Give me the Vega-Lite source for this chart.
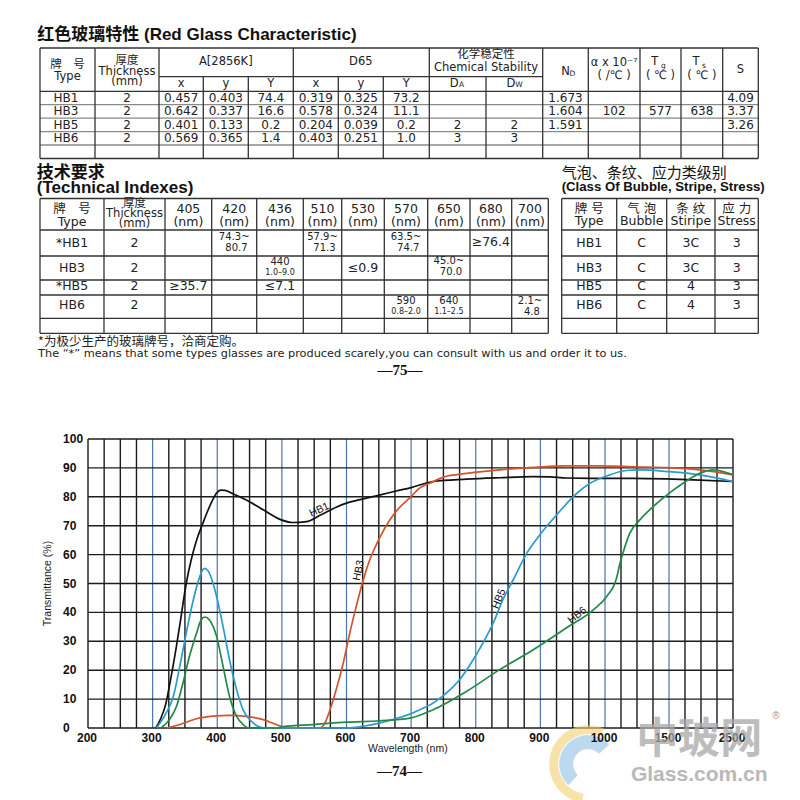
{
  "$schema": "https://vega.github.io/schema/vega-lite/v6.json",
  "width": 800,
  "height": 800,
  "autosize": "none",
  "padding": 0,
  "background": "white",
  "config": {"view": {"stroke": null}},
  "datasets": {
    "t1h": [
      {"r": 0, "c0": 0, "c1": 15}, {"r": 1, "c0": 2, "c1": 10}, {"r": 2, "c0": 0, "c1": 15},
      {"r": 3, "c0": 0, "c1": 15}, {"r": 4, "c0": 0, "c1": 15}, {"r": 5, "c0": 0, "c1": 15},
      {"r": 6, "c0": 0, "c1": 15}, {"r": 7, "c0": 0, "c1": 15}
    ],
    "t1v": [
      {"c": 0, "r0": 0, "r1": 7}, {"c": 1, "r0": 0, "r1": 7}, {"c": 2, "r0": 0, "r1": 7},
      {"c": 3, "r0": 1, "r1": 7}, {"c": 4, "r0": 1, "r1": 7}, {"c": 5, "r0": 0, "r1": 7},
      {"c": 6, "r0": 1, "r1": 7}, {"c": 7, "r0": 1, "r1": 7}, {"c": 8, "r0": 0, "r1": 7},
      {"c": 9, "r0": 1, "r1": 7}, {"c": 10, "r0": 0, "r1": 7}, {"c": 11, "r0": 0, "r1": 7},
      {"c": 12, "r0": 0, "r1": 7}, {"c": 13, "r0": 0, "r1": 7}, {"c": 14, "r0": 0, "r1": 7},
      {"c": 15, "r0": 0, "r1": 7}
    ],
    "t1head": [
      {"c": 0.5, "r": 0.59, "s": "牌　号"}, {"c": 0.5, "r": 1.04, "s": "Type"},
      {"c": 1.5, "r": 0.44, "s": "厚度"}, {"c": 1.5, "r": 0.82, "s": "Thickness"}, {"c": 1.5, "r": 1.34, "s": "(mm)"},
      {"c": 3.5, "r": 0.5, "s": "A[2856K]"}, {"c": 6.5, "r": 0.5, "s": "D65"},
      {"c": 9, "r": 0.24, "s": "化学稳定性"}, {"c": 9, "r": 0.71, "s": "Chemical Stability"},
      {"c": 2.5, "r": 1.47, "s": "x"}, {"c": 3.5, "r": 1.47, "s": "y"}, {"c": 4.5, "r": 1.47, "s": "Y"},
      {"c": 5.5, "r": 1.47, "s": "x"}, {"c": 6.5, "r": 1.47, "s": "y"}, {"c": 7.5, "r": 1.47, "s": "Y"},
      {"c": 8.44, "r": 1.47, "s": "D"}, {"c": 9.44, "r": 1.47, "s": "D"},
      {"c": 10.5, "r": 0.82, "s": "N"},
      {"c": 11.5, "r": 0.52, "s": "α x 10⁻⁷"}, {"c": 11.5, "r": 0.98, "s": "( /℃ )"},
      {"c": 12.36, "r": 0.5, "s": "T"}, {"c": 12.5, "r": 0.98, "s": "( ℃ )"},
      {"c": 13.36, "r": 0.5, "s": "T"}, {"c": 13.5, "r": 0.98, "s": "( ℃ )"},
      {"c": 14.5, "r": 0.77, "s": "S"}
    ],
    "t1sub": [
      {"c": 8.57, "r": 1.6, "s": "A"}, {"c": 9.58, "r": 1.6, "s": "W"}, {"c": 10.65, "r": 0.92, "s": "D"},
      {"c": 12.57, "r": 0.64, "s": "g"}, {"c": 13.55, "r": 0.62, "s": "s"}
    ],
    "t1cell": [
      {"c": 0.47, "r": 2.5, "s": "HB1"}, {"c": 1.5, "r": 2.5, "s": "2"}, {"c": 2.5, "r": 2.5, "s": "0.457"},
      {"c": 3.5, "r": 2.5, "s": "0.403"}, {"c": 4.5, "r": 2.5, "s": "74.4"}, {"c": 5.5, "r": 2.5, "s": "0.319"},
      {"c": 6.5, "r": 2.5, "s": "0.325"}, {"c": 7.5, "r": 2.5, "s": "73.2"}, {"c": 10.5, "r": 2.5, "s": "1.673"},
      {"c": 14.5, "r": 2.5, "s": "4.09"},
      {"c": 0.47, "r": 3.5, "s": "HB3"}, {"c": 1.5, "r": 3.5, "s": "2"}, {"c": 2.5, "r": 3.5, "s": "0.642"},
      {"c": 3.5, "r": 3.5, "s": "0.337"}, {"c": 4.5, "r": 3.5, "s": "16.6"}, {"c": 5.5, "r": 3.5, "s": "0.578"},
      {"c": 6.5, "r": 3.5, "s": "0.324"}, {"c": 7.5, "r": 3.5, "s": "11.1"}, {"c": 10.5, "r": 3.5, "s": "1.604"},
      {"c": 11.5, "r": 3.5, "s": "102"}, {"c": 12.5, "r": 3.5, "s": "577"}, {"c": 13.5, "r": 3.5, "s": "638"},
      {"c": 14.5, "r": 3.5, "s": "3.37"},
      {"c": 0.47, "r": 4.5, "s": "HB5"}, {"c": 1.5, "r": 4.5, "s": "2"}, {"c": 2.5, "r": 4.5, "s": "0.401"},
      {"c": 3.5, "r": 4.5, "s": "0.133"}, {"c": 4.5, "r": 4.5, "s": "0.2"}, {"c": 5.5, "r": 4.5, "s": "0.204"},
      {"c": 6.5, "r": 4.5, "s": "0.039"}, {"c": 7.5, "r": 4.5, "s": "0.2"}, {"c": 8.5, "r": 4.5, "s": "2"},
      {"c": 9.5, "r": 4.5, "s": "2"}, {"c": 10.5, "r": 4.5, "s": "1.591"}, {"c": 14.5, "r": 4.5, "s": "3.26"},
      {"c": 0.47, "r": 5.5, "s": "HB6"}, {"c": 1.5, "r": 5.5, "s": "2"}, {"c": 2.5, "r": 5.5, "s": "0.569"},
      {"c": 3.5, "r": 5.5, "s": "0.365"}, {"c": 4.5, "r": 5.5, "s": "1.4"}, {"c": 5.5, "r": 5.5, "s": "0.403"},
      {"c": 6.5, "r": 5.5, "s": "0.251"}, {"c": 7.5, "r": 5.5, "s": "1.0"}, {"c": 8.5, "r": 5.5, "s": "3"},
      {"c": 9.5, "r": 5.5, "s": "3"}
    ],
    "t1title": [{"c": -0.05, "r": -0.45, "s": "红色玻璃特性 (Red Glass Characteristic)"}],
    "t2h": [
      {"r": 0, "c0": 0, "c1": 11}, {"r": 1, "c0": 0, "c1": 11}, {"r": 2, "c0": 0, "c1": 11}, {"r": 3, "c0": 0, "c1": 11},
      {"r": 4, "c0": 0, "c1": 11}, {"r": 5, "c0": 0, "c1": 11}, {"r": 6, "c0": 0, "c1": 11},
      {"r": 0, "c0": 12, "c1": 16}, {"r": 1, "c0": 12, "c1": 16}, {"r": 2, "c0": 12, "c1": 16}, {"r": 3, "c0": 12, "c1": 16},
      {"r": 4, "c0": 12, "c1": 16}, {"r": 5, "c0": 12, "c1": 16}, {"r": 6, "c0": 12, "c1": 16}
    ],
    "t2v": [
      {"c": 0, "r0": 0, "r1": 6}, {"c": 1, "r0": 0, "r1": 6}, {"c": 2, "r0": 0, "r1": 6}, {"c": 3, "r0": 0, "r1": 6},
      {"c": 4, "r0": 0, "r1": 6}, {"c": 5, "r0": 0, "r1": 6}, {"c": 6, "r0": 0, "r1": 6}, {"c": 7, "r0": 0, "r1": 6},
      {"c": 8, "r0": 0, "r1": 6}, {"c": 9, "r0": 0, "r1": 6}, {"c": 10, "r0": 0, "r1": 6}, {"c": 11, "r0": 0, "r1": 6},
      {"c": 12, "r0": 0, "r1": 6}, {"c": 13, "r0": 0, "r1": 6}, {"c": 14, "r0": 0, "r1": 6}, {"c": 15, "r0": 0, "r1": 6},
      {"c": 16, "r0": 0, "r1": 6}
    ],
    "t2head": [
      {"c": 0.5, "r": 0.33, "s": "牌　号"}, {"c": 0.5, "r": 0.74, "s": "Type"},
      {"c": 2.5, "r": 0.33, "s": "405"}, {"c": 2.5, "r": 0.74, "s": "(nm)"},
      {"c": 3.5, "r": 0.33, "s": "420"}, {"c": 3.5, "r": 0.74, "s": "(nm)"},
      {"c": 4.5, "r": 0.33, "s": "436"}, {"c": 4.5, "r": 0.74, "s": "(nm)"},
      {"c": 5.5, "r": 0.33, "s": "510"}, {"c": 5.5, "r": 0.74, "s": "(nm)"},
      {"c": 6.5, "r": 0.33, "s": "530"}, {"c": 6.5, "r": 0.74, "s": "(nm)"},
      {"c": 7.5, "r": 0.33, "s": "570"}, {"c": 7.5, "r": 0.74, "s": "(nm)"},
      {"c": 8.5, "r": 0.33, "s": "650"}, {"c": 8.5, "r": 0.74, "s": "(nm)"},
      {"c": 9.5, "r": 0.33, "s": "680"}, {"c": 9.5, "r": 0.74, "s": "(nm)"},
      {"c": 10.5, "r": 0.33, "s": "700"}, {"c": 10.5, "r": 0.74, "s": "(nm)"},
      {"c": 12.5, "r": 0.33, "s": "牌 号"}, {"c": 12.5, "r": 0.71, "s": "Type"},
      {"c": 13.5, "r": 0.33, "s": "气 泡"}, {"c": 13.5, "r": 0.71, "s": "Bubble"},
      {"c": 14.5, "r": 0.33, "s": "条 纹"}, {"c": 14.5, "r": 0.71, "s": "Stiripe"},
      {"c": 15.5, "r": 0.33, "s": "应 力"}, {"c": 15.5, "r": 0.71, "s": "Stress"}
    ],
    "t2thick": [
      {"c": 1.5, "r": 0.18, "s": "厚度"}, {"c": 1.5, "r": 0.5, "s": "Thickness"}, {"c": 1.5, "r": 0.82, "s": "(mm)"}
    ],
    "t2cell": [
      {"c": 0.5, "r": 1.5, "s": "*HB1"}, {"c": 1.5, "r": 1.5, "s": "2"}, {"c": 9.5, "r": 1.47, "s": "≥76.4"},
      {"c": 0.5, "r": 2.5, "s": "HB3"}, {"c": 1.5, "r": 2.5, "s": "2"}, {"c": 6.5, "r": 2.5, "s": "≤0.9"},
      {"c": 0.5, "r": 3.4, "s": "*HB5"}, {"c": 1.5, "r": 3.4, "s": "2"}, {"c": 2.5, "r": 3.4, "s": "≥35.7"},
      {"c": 4.5, "r": 3.4, "s": "≤7.1"},
      {"c": 0.5, "r": 4.45, "s": "HB6"}, {"c": 1.5, "r": 4.45, "s": "2"},
      {"c": 12.5, "r": 1.5, "s": "HB1"}, {"c": 13.5, "r": 1.5, "s": "C"}, {"c": 14.5, "r": 1.5, "s": "3C"}, {"c": 15.5, "r": 1.5, "s": "3"},
      {"c": 12.5, "r": 2.5, "s": "HB3"}, {"c": 13.5, "r": 2.5, "s": "C"}, {"c": 14.5, "r": 2.5, "s": "3C"}, {"c": 15.5, "r": 2.5, "s": "3"},
      {"c": 12.5, "r": 3.4, "s": "HB5"}, {"c": 13.5, "r": 3.4, "s": "C"}, {"c": 14.5, "r": 3.4, "s": "4"}, {"c": 15.5, "r": 3.4, "s": "3"},
      {"c": 12.5, "r": 4.45, "s": "HB6"}, {"c": 13.5, "r": 4.45, "s": "C"}, {"c": 14.5, "r": 4.45, "s": "4"}, {"c": 15.5, "r": 4.45, "s": "3"}
    ],
    "t2range": [
      {"c": 3.5, "r": 1.28, "s": "74.3~"}, {"c": 3.55, "r": 1.68, "s": "80.7"},
      {"c": 5.5, "r": 1.28, "s": "57.9~"}, {"c": 5.55, "r": 1.68, "s": "71.3"},
      {"c": 7.5, "r": 1.28, "s": "63.5~"}, {"c": 7.55, "r": 1.68, "s": "74.7"},
      {"c": 4.5, "r": 2.24, "s": "440"},
      {"c": 8.5, "r": 2.22, "s": "45.0~"}, {"c": 8.55, "r": 2.68, "s": "70.0"},
      {"c": 7.5, "r": 4.27, "s": "590"}, {"c": 8.5, "r": 4.27, "s": "640"},
      {"c": 10.5, "r": 4.27, "s": "2.1~"}, {"c": 10.55, "r": 4.74, "s": "4.8"}
    ],
    "t2small": [
      {"c": 4.5, "r": 2.72, "s": "1.0–9.0"}, {"c": 7.5, "r": 4.74, "s": "0.8–2.0"}, {"c": 8.5, "r": 4.74, "s": "1.1–2.5"}
    ],
    "t2titleb": [
      {"c": -0.05, "r": -0.8, "s": "技术要求"}, {"c": -0.05, "r": -0.33, "s": "(Technical Indexes)"}
    ],
    "t2titlecn": [{"c": 12, "r": -0.8, "s": "气泡、条纹、应力类级别"}],
    "t2titlenarrow": [{"c": 12, "r": -0.37, "s": "(Class Of Bubble, Stripe, Stress)"}],
    "t2notecn": [{"c": -0.03, "r": 6.6, "s": "*为极少生产的玻璃牌号，洽商定购。"}],
    "t2note": [{"c": -0.03, "r": 7.4, "s": "The   “*”  means that some types glasses are produced scarely,you can consult with us and order it to us."}],
    "t2page": [{"c": 7.36, "r": 8.45, "s": "—75—"}],
    "vgrid": [
      {"w": 200}, {"w": 225}, {"w": 250}, {"w": 275}, {"w": 300}, {"w": 325}, {"w": 350}, {"w": 375},
      {"w": 400}, {"w": 425}, {"w": 450}, {"w": 475}, {"w": 500}, {"w": 525}, {"w": 550}, {"w": 575},
      {"w": 600}, {"w": 625}, {"w": 650}, {"w": 675}, {"w": 700}, {"w": 725}, {"w": 750}, {"w": 775},
      {"w": 800}, {"w": 825}, {"w": 850}, {"w": 875}, {"w": 900}, {"w": 925}, {"w": 950}, {"w": 975},
      {"w": 1000}, {"w": 1125}, {"w": 1250}, {"w": 1375}, {"w": 1500}, {"w": 1750}, {"w": 2000}, {"w": 2250}, {"w": 2500}
    ],
    "hgrid": [
      {"v": 0}, {"v": 10}, {"v": 20}, {"v": 30}, {"v": 40}, {"v": 50}, {"v": 60}, {"v": 70}, {"v": 80}, {"v": 90}, {"v": 100}
    ],
    "xticks": [
      {"w": 200}, {"w": 300}, {"w": 400}, {"w": 500}, {"w": 600}, {"w": 700}, {"w": 800}, {"w": 900},
      {"w": 1000}, {"w": 1500}, {"w": 2500}
    ],
    "yticks": [
      {"v": 0}, {"v": 10}, {"v": 20}, {"v": 30}, {"v": 40}, {"v": 50}, {"v": 60}, {"v": 70}, {"v": 80}, {"v": 90}, {"v": 100}
    ],
    "xtitle": [{"w": 695, "v": -7.2, "s": "Wavelength (nm)"}],
    "ytitle": [{"w": 138, "v": 50, "s": "Transmittance (%)"}],
    "curves": [
      {"g": "HB1", "w": 305, "v": 0}, {"g": "HB1", "w": 312, "v": 3}, {"g": "HB1", "w": 320, "v": 8},
      {"g": "HB1", "w": 328, "v": 17}, {"g": "HB1", "w": 337, "v": 28.5}, {"g": "HB1", "w": 345, "v": 40},
      {"g": "HB1", "w": 352, "v": 50}, {"g": "HB1", "w": 360, "v": 58.5}, {"g": "HB1", "w": 368, "v": 65},
      {"g": "HB1", "w": 378, "v": 71}, {"g": "HB1", "w": 385, "v": 75}, {"g": "HB1", "w": 392, "v": 78.5},
      {"g": "HB1", "w": 399, "v": 81.3}, {"g": "HB1", "w": 405, "v": 82.3}, {"g": "HB1", "w": 412, "v": 82.2},
      {"g": "HB1", "w": 425, "v": 81}, {"g": "HB1", "w": 445, "v": 78.9}, {"g": "HB1", "w": 471, "v": 75.5},
      {"g": "HB1", "w": 497, "v": 72.2}, {"g": "HB1", "w": 517, "v": 71.1}, {"g": "HB1", "w": 538, "v": 71.4},
      {"g": "HB1", "w": 559, "v": 73.6}, {"g": "HB1", "w": 584, "v": 76.4}, {"g": "HB1", "w": 600, "v": 77.8},
      {"g": "HB1", "w": 626, "v": 79.3}, {"g": "HB1", "w": 651, "v": 80.6}, {"g": "HB1", "w": 677, "v": 82},
      {"g": "HB1", "w": 700, "v": 83.2}, {"g": "HB1", "w": 734, "v": 85.3}, {"g": "HB1", "w": 786, "v": 86.1},
      {"g": "HB1", "w": 837, "v": 86.6}, {"g": "HB1", "w": 889, "v": 87}, {"g": "HB1", "w": 915, "v": 86.9},
      {"g": "HB1", "w": 940, "v": 86.5}, {"g": "HB1", "w": 992, "v": 86.4}, {"g": "HB1", "w": 1220, "v": 86.4},
      {"g": "HB1", "w": 1479, "v": 86.2}, {"g": "HB1", "w": 1979, "v": 85.8}, {"g": "HB1", "w": 2500, "v": 85.3},
      {"g": "HB3", "w": 322, "v": 0}, {"g": "HB3", "w": 342, "v": 1.2}, {"g": "HB3", "w": 368, "v": 3.2},
      {"g": "HB3", "w": 393, "v": 4.1}, {"g": "HB3", "w": 419, "v": 4.4}, {"g": "HB3", "w": 445, "v": 4},
      {"g": "HB3", "w": 471, "v": 2.9}, {"g": "HB3", "w": 491, "v": 1.2}, {"g": "HB3", "w": 507, "v": 0.1},
      {"g": "HB3", "w": 520, "v": 0}, {"g": "HB3", "w": 558, "v": 0}, {"g": "HB3", "w": 566, "v": 1.5},
      {"g": "HB3", "w": 574, "v": 6}, {"g": "HB3", "w": 584, "v": 13.2}, {"g": "HB3", "w": 595, "v": 22.5},
      {"g": "HB3", "w": 605, "v": 32.8}, {"g": "HB3", "w": 615, "v": 42}, {"g": "HB3", "w": 626, "v": 51.3},
      {"g": "HB3", "w": 636, "v": 58.2}, {"g": "HB3", "w": 651, "v": 65.7}, {"g": "HB3", "w": 667, "v": 72},
      {"g": "HB3", "w": 682, "v": 76.3}, {"g": "HB3", "w": 698, "v": 79.6}, {"g": "HB3", "w": 713, "v": 83},
      {"g": "HB3", "w": 729, "v": 84.7}, {"g": "HB3", "w": 750, "v": 86.8}, {"g": "HB3", "w": 786, "v": 88.1},
      {"g": "HB3", "w": 837, "v": 89.3}, {"g": "HB3", "w": 889, "v": 90.2}, {"g": "HB3", "w": 940, "v": 90.7},
      {"g": "HB3", "w": 992, "v": 90.7}, {"g": "HB3", "w": 1220, "v": 90.4}, {"g": "HB3", "w": 1500, "v": 90.1},
      {"g": "HB3", "w": 1979, "v": 89.3}, {"g": "HB3", "w": 2500, "v": 87.6},
      {"g": "HB5", "w": 306, "v": 0}, {"g": "HB5", "w": 321, "v": 5.2}, {"g": "HB5", "w": 332, "v": 10.9},
      {"g": "HB5", "w": 342, "v": 21.3}, {"g": "HB5", "w": 352, "v": 32.8}, {"g": "HB5", "w": 363, "v": 44.4},
      {"g": "HB5", "w": 373, "v": 52.4}, {"g": "HB5", "w": 380, "v": 55.2}, {"g": "HB5", "w": 386, "v": 54.3},
      {"g": "HB5", "w": 399, "v": 45.5}, {"g": "HB5", "w": 409, "v": 35.1}, {"g": "HB5", "w": 419, "v": 23.6},
      {"g": "HB5", "w": 430, "v": 13.2}, {"g": "HB5", "w": 440, "v": 6.3}, {"g": "HB5", "w": 453, "v": 2.3},
      {"g": "HB5", "w": 466, "v": 0.3}, {"g": "HB5", "w": 476, "v": 0}, {"g": "HB5", "w": 600, "v": 0},
      {"g": "HB5", "w": 626, "v": 0.6}, {"g": "HB5", "w": 651, "v": 1.7}, {"g": "HB5", "w": 677, "v": 3.3},
      {"g": "HB5", "w": 698, "v": 4.8}, {"g": "HB5", "w": 708, "v": 5.8}, {"g": "HB5", "w": 734, "v": 8.6},
      {"g": "HB5", "w": 760, "v": 13.2}, {"g": "HB5", "w": 775, "v": 16.7}, {"g": "HB5", "w": 796, "v": 23.6},
      {"g": "HB5", "w": 811, "v": 29.4}, {"g": "HB5", "w": 827, "v": 36.3}, {"g": "HB5", "w": 842, "v": 44.4},
      {"g": "HB5", "w": 858, "v": 51.3}, {"g": "HB5", "w": 879, "v": 60.5}, {"g": "HB5", "w": 899, "v": 66.8},
      {"g": "HB5", "w": 925, "v": 73.7}, {"g": "HB5", "w": 951, "v": 80.1}, {"g": "HB5", "w": 977, "v": 84.7},
      {"g": "HB5", "w": 1013, "v": 87.2}, {"g": "HB5", "w": 1168, "v": 89.1}, {"g": "HB5", "w": 1272, "v": 89.3},
      {"g": "HB5", "w": 1500, "v": 88.7}, {"g": "HB5", "w": 1979, "v": 87.6}, {"g": "HB5", "w": 2500, "v": 85.3},
      {"g": "HB6", "w": 313, "v": 0}, {"g": "HB6", "w": 326, "v": 2.9}, {"g": "HB6", "w": 337, "v": 7.5},
      {"g": "HB6", "w": 347, "v": 15.6}, {"g": "HB6", "w": 357, "v": 24.8}, {"g": "HB6", "w": 368, "v": 32.8},
      {"g": "HB6", "w": 375, "v": 37.4}, {"g": "HB6", "w": 381, "v": 38.4}, {"g": "HB6", "w": 388, "v": 37.4},
      {"g": "HB6", "w": 399, "v": 31.7}, {"g": "HB6", "w": 409, "v": 21.3}, {"g": "HB6", "w": 419, "v": 10.9},
      {"g": "HB6", "w": 430, "v": 4}, {"g": "HB6", "w": 440, "v": 1.2}, {"g": "HB6", "w": 450, "v": 0},
      {"g": "HB6", "w": 495, "v": 0}, {"g": "HB6", "w": 502, "v": 0.5}, {"g": "HB6", "w": 548, "v": 1.2},
      {"g": "HB6", "w": 600, "v": 2}, {"g": "HB6", "w": 651, "v": 2.5}, {"g": "HB6", "w": 698, "v": 3.4},
      {"g": "HB6", "w": 734, "v": 6.3}, {"g": "HB6", "w": 786, "v": 12.7}, {"g": "HB6", "w": 837, "v": 20.2},
      {"g": "HB6", "w": 889, "v": 27.1}, {"g": "HB6", "w": 940, "v": 34.6}, {"g": "HB6", "w": 982, "v": 40.9},
      {"g": "HB6", "w": 1013, "v": 45.5}, {"g": "HB6", "w": 1091, "v": 52}, {"g": "HB6", "w": 1117, "v": 57},
      {"g": "HB6", "w": 1142, "v": 60.8}, {"g": "HB6", "w": 1194, "v": 67.4}, {"g": "HB6", "w": 1272, "v": 72},
      {"g": "HB6", "w": 1376, "v": 76.6}, {"g": "HB6", "w": 1500, "v": 81.2}, {"g": "HB6", "w": 1719, "v": 84.7},
      {"g": "HB6", "w": 1979, "v": 88.1}, {"g": "HB6", "w": 2188, "v": 89.3}, {"g": "HB6", "w": 2344, "v": 88.7},
      {"g": "HB6", "w": 2500, "v": 87.6}
    ],
    "clabels": [
      {"g": "HB1", "w": 558, "v": 75.5}, {"g": "HB3", "w": 619, "v": 54.5},
      {"g": "HB5", "w": 836, "v": 44.7}, {"g": "HB6", "w": 957, "v": 39}
    ],
    "pg74": [{"w": 682, "v": -14.8, "s": "—74—"}],
    "logo": [{"w": 974, "v": -12.5}],
    "wm1": [{"w": 1972, "v": -4.2, "s": "中玻网"}],
    "wm2": [{"w": 1972, "v": -16.2, "s": "Glass.com.cn"}],
    "wm3": [{"w": 3172, "v": 4.2, "s": "®"}]
  },
  "resolve": {"scale": {"x": "independent", "y": "independent"}},
  "layer": [
    {
      "layer": [
        {
          "data": {"name": "t1h"},
          "mark": {"type": "rule", "strokeWidth": 1.3},
          "encoding": {
            "x": {"field": "c0", "type": "quantitative", "axis": null, "scale": {"domain": [0,1,2,3,4,5,6,7,8,9,10,11,12,13,14,15], "range": [40,95,159,203.3,248.3,293.3,338.3,383.3,429.3,486,542.7,588.3,640,681,722.7,758.3], "nice": false, "zero": false}},
            "x2": {"field": "c1"},
            "y": {"field": "r", "type": "quantitative", "axis": null, "scale": {"domain": [0,1,2,3,4,5,6,7], "range": [48,76.7,91.3,104.7,118.2,131.7,145,158.5], "nice": false, "zero": false}},
            "color": {"condition": {"test": "datum.r > 2 && datum.r < 7", "value": "#8a8a8a"}, "value": "#333333"}
          }
        },
        {
          "data": {"name": "t1v"},
          "mark": {"type": "rule", "strokeWidth": 1.3, "color": "#333333"},
          "encoding": {
            "x": {"field": "c", "type": "quantitative", "axis": null, "scale": {"domain": [0,1,2,3,4,5,6,7,8,9,10,11,12,13,14,15], "range": [40,95,159,203.3,248.3,293.3,338.3,383.3,429.3,486,542.7,588.3,640,681,722.7,758.3], "nice": false, "zero": false}},
            "y": {"field": "r0", "type": "quantitative", "axis": null, "scale": {"domain": [0,1,2,3,4,5,6,7], "range": [48,76.7,91.3,104.7,118.2,131.7,145,158.5], "nice": false, "zero": false}},
            "y2": {"field": "r1"}
          }
        },
        {
          "data": {"name": "t1head"},
          "mark": {"type": "text", "font": "DejaVu Sans, Noto Sans CJK SC", "fontSize": 11.5, "color": "#222222"},
          "encoding": {
            "x": {"field": "c", "type": "quantitative", "axis": null, "scale": {"domain": [0,1,2,3,4,5,6,7,8,9,10,11,12,13,14,15], "range": [40,95,159,203.3,248.3,293.3,338.3,383.3,429.3,486,542.7,588.3,640,681,722.7,758.3], "nice": false, "zero": false}},
            "y": {"field": "r", "type": "quantitative", "axis": null, "scale": {"domain": [0,1,2,3,4,5,6,7], "range": [48,76.7,91.3,104.7,118.2,131.7,145,158.5], "nice": false, "zero": false}},
            "text": {"field": "s"}
          }
        },
        {
          "data": {"name": "t1sub"},
          "mark": {"type": "text", "font": "DejaVu Sans", "fontSize": 7.5, "color": "#222222"},
          "encoding": {
            "x": {"field": "c", "type": "quantitative", "axis": null, "scale": {"domain": [0,1,2,3,4,5,6,7,8,9,10,11,12,13,14,15], "range": [40,95,159,203.3,248.3,293.3,338.3,383.3,429.3,486,542.7,588.3,640,681,722.7,758.3], "nice": false, "zero": false}},
            "y": {"field": "r", "type": "quantitative", "axis": null, "scale": {"domain": [0,1,2,3,4,5,6,7], "range": [48,76.7,91.3,104.7,118.2,131.7,145,158.5], "nice": false, "zero": false}},
            "text": {"field": "s"}
          }
        },
        {
          "data": {"name": "t1cell"},
          "mark": {"type": "text", "font": "DejaVu Sans", "fontSize": 12, "color": "#222222"},
          "encoding": {
            "x": {"field": "c", "type": "quantitative", "axis": null, "scale": {"domain": [0,1,2,3,4,5,6,7,8,9,10,11,12,13,14,15], "range": [40,95,159,203.3,248.3,293.3,338.3,383.3,429.3,486,542.7,588.3,640,681,722.7,758.3], "nice": false, "zero": false}},
            "y": {"field": "r", "type": "quantitative", "axis": null, "scale": {"domain": [0,1,2,3,4,5,6,7], "range": [48,76.7,91.3,104.7,118.2,131.7,145,158.5], "nice": false, "zero": false}},
            "text": {"field": "s"}
          }
        },
        {
          "data": {"name": "t1title"},
          "mark": {"type": "text", "font": "Liberation Sans, Noto Sans CJK SC", "fontSize": 17, "fontWeight": "bold", "align": "left", "color": "#111111"},
          "encoding": {
            "x": {"field": "c", "type": "quantitative", "axis": null, "scale": {"domain": [0,1,2,3,4,5,6,7,8,9,10,11,12,13,14,15], "range": [40,95,159,203.3,248.3,293.3,338.3,383.3,429.3,486,542.7,588.3,640,681,722.7,758.3], "nice": false, "zero": false}},
            "y": {"field": "r", "type": "quantitative", "axis": null, "scale": {"domain": [0,1,2,3,4,5,6,7], "range": [48,76.7,91.3,104.7,118.2,131.7,145,158.5], "nice": false, "zero": false}},
            "text": {"field": "s"}
          }
        }
      ]
    },
    {
      "layer": [
        {
          "data": {"name": "t2h"},
          "mark": {"type": "rule", "strokeWidth": 1.3, "color": "#333333"},
          "encoding": {
            "x": {"field": "c0", "type": "quantitative", "axis": null, "scale": {"domain": [0,1,2,3,4,5,6,7,8,9,10,11,12,13,14,15,16], "range": [40,104,165,211.7,256.7,303.3,341.7,384.3,427.7,470,511.7,548.3,561.7,616.7,666.7,715,758.3], "nice": false, "zero": false}},
            "x2": {"field": "c1"},
            "y": {"field": "r", "type": "quantitative", "axis": null, "scale": {"domain": [0,1,2,3,4,5,6], "range": [198.5,230,256,280,295,318.3,333.3], "nice": false, "zero": false}}
          }
        },
        {
          "data": {"name": "t2v"},
          "mark": {"type": "rule", "strokeWidth": 1.3, "color": "#333333"},
          "encoding": {
            "x": {"field": "c", "type": "quantitative", "axis": null, "scale": {"domain": [0,1,2,3,4,5,6,7,8,9,10,11,12,13,14,15,16], "range": [40,104,165,211.7,256.7,303.3,341.7,384.3,427.7,470,511.7,548.3,561.7,616.7,666.7,715,758.3], "nice": false, "zero": false}},
            "y": {"field": "r0", "type": "quantitative", "axis": null, "scale": {"domain": [0,1,2,3,4,5,6], "range": [198.5,230,256,280,295,318.3,333.3], "nice": false, "zero": false}},
            "y2": {"field": "r1"}
          }
        },
        {
          "data": {"name": "t2head"},
          "mark": {"type": "text", "font": "DejaVu Sans, Noto Sans CJK SC", "fontSize": 12.5, "color": "#222222"},
          "encoding": {
            "x": {"field": "c", "type": "quantitative", "axis": null, "scale": {"domain": [0,1,2,3,4,5,6,7,8,9,10,11,12,13,14,15,16], "range": [40,104,165,211.7,256.7,303.3,341.7,384.3,427.7,470,511.7,548.3,561.7,616.7,666.7,715,758.3], "nice": false, "zero": false}},
            "y": {"field": "r", "type": "quantitative", "axis": null, "scale": {"domain": [0,1,2,3,4,5,6], "range": [198.5,230,256,280,295,318.3,333.3], "nice": false, "zero": false}},
            "text": {"field": "s"}
          }
        },
        {
          "data": {"name": "t2thick"},
          "mark": {"type": "text", "font": "DejaVu Sans, Noto Sans CJK SC", "fontSize": 11.5, "color": "#222222"},
          "encoding": {
            "x": {"field": "c", "type": "quantitative", "axis": null, "scale": {"domain": [0,1,2,3,4,5,6,7,8,9,10,11,12,13,14,15,16], "range": [40,104,165,211.7,256.7,303.3,341.7,384.3,427.7,470,511.7,548.3,561.7,616.7,666.7,715,758.3], "nice": false, "zero": false}},
            "y": {"field": "r", "type": "quantitative", "axis": null, "scale": {"domain": [0,1,2,3,4,5,6], "range": [198.5,230,256,280,295,318.3,333.3], "nice": false, "zero": false}},
            "text": {"field": "s"}
          }
        },
        {
          "data": {"name": "t2cell"},
          "mark": {"type": "text", "font": "DejaVu Sans", "fontSize": 12.5, "color": "#222222"},
          "encoding": {
            "x": {"field": "c", "type": "quantitative", "axis": null, "scale": {"domain": [0,1,2,3,4,5,6,7,8,9,10,11,12,13,14,15,16], "range": [40,104,165,211.7,256.7,303.3,341.7,384.3,427.7,470,511.7,548.3,561.7,616.7,666.7,715,758.3], "nice": false, "zero": false}},
            "y": {"field": "r", "type": "quantitative", "axis": null, "scale": {"domain": [0,1,2,3,4,5,6], "range": [198.5,230,256,280,295,318.3,333.3], "nice": false, "zero": false}},
            "text": {"field": "s"}
          }
        },
        {
          "data": {"name": "t2range"},
          "mark": {"type": "text", "font": "DejaVu Sans", "fontSize": 10, "color": "#222222"},
          "encoding": {
            "x": {"field": "c", "type": "quantitative", "axis": null, "scale": {"domain": [0,1,2,3,4,5,6,7,8,9,10,11,12,13,14,15,16], "range": [40,104,165,211.7,256.7,303.3,341.7,384.3,427.7,470,511.7,548.3,561.7,616.7,666.7,715,758.3], "nice": false, "zero": false}},
            "y": {"field": "r", "type": "quantitative", "axis": null, "scale": {"domain": [0,1,2,3,4,5,6], "range": [198.5,230,256,280,295,318.3,333.3], "nice": false, "zero": false}},
            "text": {"field": "s"}
          }
        },
        {
          "data": {"name": "t2small"},
          "mark": {"type": "text", "font": "DejaVu Sans", "fontSize": 8, "color": "#222222"},
          "encoding": {
            "x": {"field": "c", "type": "quantitative", "axis": null, "scale": {"domain": [0,1,2,3,4,5,6,7,8,9,10,11,12,13,14,15,16], "range": [40,104,165,211.7,256.7,303.3,341.7,384.3,427.7,470,511.7,548.3,561.7,616.7,666.7,715,758.3], "nice": false, "zero": false}},
            "y": {"field": "r", "type": "quantitative", "axis": null, "scale": {"domain": [0,1,2,3,4,5,6], "range": [198.5,230,256,280,295,318.3,333.3], "nice": false, "zero": false}},
            "text": {"field": "s"}
          }
        },
        {
          "data": {"name": "t2titleb"},
          "mark": {"type": "text", "font": "Liberation Sans, Noto Sans CJK SC", "fontSize": 17, "fontWeight": "bold", "align": "left", "color": "#111111"},
          "encoding": {
            "x": {"field": "c", "type": "quantitative", "axis": null, "scale": {"domain": [0,1,2,3,4,5,6,7,8,9,10,11,12,13,14,15,16], "range": [40,104,165,211.7,256.7,303.3,341.7,384.3,427.7,470,511.7,548.3,561.7,616.7,666.7,715,758.3], "nice": false, "zero": false}},
            "y": {"field": "r", "type": "quantitative", "axis": null, "scale": {"domain": [0,1,2,3,4,5,6], "range": [198.5,230,256,280,295,318.3,333.3], "nice": false, "zero": false}},
            "text": {"field": "s"}
          }
        },
        {
          "data": {"name": "t2titlecn"},
          "mark": {"type": "text", "font": "Noto Sans CJK SC", "fontSize": 15, "align": "left", "color": "#111111"},
          "encoding": {
            "x": {"field": "c", "type": "quantitative", "axis": null, "scale": {"domain": [0,1,2,3,4,5,6,7,8,9,10,11,12,13,14,15,16], "range": [40,104,165,211.7,256.7,303.3,341.7,384.3,427.7,470,511.7,548.3,561.7,616.7,666.7,715,758.3], "nice": false, "zero": false}},
            "y": {"field": "r", "type": "quantitative", "axis": null, "scale": {"domain": [0,1,2,3,4,5,6], "range": [198.5,230,256,280,295,318.3,333.3], "nice": false, "zero": false}},
            "text": {"field": "s"}
          }
        },
        {
          "data": {"name": "t2titlenarrow"},
          "mark": {"type": "text", "font": "Liberation Sans", "fontSize": 13.2, "fontWeight": "bold", "align": "left", "color": "#111111"},
          "encoding": {
            "x": {"field": "c", "type": "quantitative", "axis": null, "scale": {"domain": [0,1,2,3,4,5,6,7,8,9,10,11,12,13,14,15,16], "range": [40,104,165,211.7,256.7,303.3,341.7,384.3,427.7,470,511.7,548.3,561.7,616.7,666.7,715,758.3], "nice": false, "zero": false}},
            "y": {"field": "r", "type": "quantitative", "axis": null, "scale": {"domain": [0,1,2,3,4,5,6], "range": [198.5,230,256,280,295,318.3,333.3], "nice": false, "zero": false}},
            "text": {"field": "s"}
          }
        },
        {
          "data": {"name": "t2notecn"},
          "mark": {"type": "text", "font": "Noto Sans CJK SC", "fontSize": 12.5, "align": "left", "color": "#222222"},
          "encoding": {
            "x": {"field": "c", "type": "quantitative", "axis": null, "scale": {"domain": [0,1,2,3,4,5,6,7,8,9,10,11,12,13,14,15,16], "range": [40,104,165,211.7,256.7,303.3,341.7,384.3,427.7,470,511.7,548.3,561.7,616.7,666.7,715,758.3], "nice": false, "zero": false}},
            "y": {"field": "r", "type": "quantitative", "axis": null, "scale": {"domain": [0,1,2,3,4,5,6], "range": [198.5,230,256,280,295,318.3,333.3], "nice": false, "zero": false}},
            "text": {"field": "s"}
          }
        },
        {
          "data": {"name": "t2note"},
          "mark": {"type": "text", "font": "DejaVu Sans", "fontSize": 11.3, "align": "left", "color": "#222222"},
          "encoding": {
            "x": {"field": "c", "type": "quantitative", "axis": null, "scale": {"domain": [0,1,2,3,4,5,6,7,8,9,10,11,12,13,14,15,16], "range": [40,104,165,211.7,256.7,303.3,341.7,384.3,427.7,470,511.7,548.3,561.7,616.7,666.7,715,758.3], "nice": false, "zero": false}},
            "y": {"field": "r", "type": "quantitative", "axis": null, "scale": {"domain": [0,1,2,3,4,5,6], "range": [198.5,230,256,280,295,318.3,333.3], "nice": false, "zero": false}},
            "text": {"field": "s"}
          }
        },
        {
          "data": {"name": "t2page"},
          "mark": {"type": "text", "font": "Liberation Serif", "fontSize": 15, "fontWeight": "bold", "color": "#111111"},
          "encoding": {
            "x": {"field": "c", "type": "quantitative", "axis": null, "scale": {"domain": [0,1,2,3,4,5,6,7,8,9,10,11,12,13,14,15,16], "range": [40,104,165,211.7,256.7,303.3,341.7,384.3,427.7,470,511.7,548.3,561.7,616.7,666.7,715,758.3], "nice": false, "zero": false}},
            "y": {"field": "r", "type": "quantitative", "axis": null, "scale": {"domain": [0,1,2,3,4,5,6], "range": [198.5,230,256,280,295,318.3,333.3], "nice": false, "zero": false}},
            "text": {"field": "s"}
          }
        }
      ]
    },
    {
      "layer": [
        {
          "data": {"name": "vgrid"},
          "mark": {"type": "rule"},
          "encoding": {
            "x": {"field": "w", "type": "quantitative", "axis": null, "scale": {"domain": [200, 1000, 1500, 2500], "range": [88, 605, 669, 733], "nice": false, "zero": false}},
            "y": {"datum": 0, "type": "quantitative", "axis": null, "scale": {"domain": [0, 100], "range": [728, 439], "nice": false, "zero": false}},
            "y2": {"datum": 100},
            "color": {"condition": {"test": "(datum.w >= 300 && datum.w <= 1000 && datum.w % 100 === 0) || datum.w === 1500", "value": "#4a76b2"}, "value": "#1c1c1c"},
            "strokeWidth": {"condition": {"test": "(datum.w >= 300 && datum.w <= 1000 && datum.w % 100 === 0) || datum.w === 1500", "value": 1.2}, "value": 1.4}
          }
        },
        {
          "data": {"name": "hgrid"},
          "mark": {"type": "rule", "color": "#1c1c1c", "strokeWidth": 1.4},
          "encoding": {
            "y": {"field": "v", "type": "quantitative", "axis": null, "scale": {"domain": [0, 100], "range": [728, 439], "nice": false, "zero": false}},
            "x": {"datum": 200, "type": "quantitative", "axis": null, "scale": {"domain": [200, 1000, 1500, 2500], "range": [88, 605, 669, 733], "nice": false, "zero": false}},
            "x2": {"datum": 2500}
          }
        },
        {
          "data": {"name": "curves"},
          "mark": {"type": "line", "interpolate": "monotone", "strokeWidth": 1.7},
          "encoding": {
            "x": {"field": "w", "type": "quantitative", "axis": null, "scale": {"domain": [200, 1000, 1500, 2500], "range": [88, 605, 669, 733], "nice": false, "zero": false}},
            "y": {"field": "v", "type": "quantitative", "axis": null, "scale": {"domain": [0, 100], "range": [728, 439], "nice": false, "zero": false}},
            "color": {"field": "g", "type": "nominal", "legend": null,
              "scale": {"domain": ["HB1", "HB3", "HB5", "HB6"], "range": ["#111111", "#d4532b", "#2b9ad0", "#1f8a47"]}}
          }
        },
        {
          "data": {"name": "logo"},
          "mark": {"type": "arc", "theta": 3.3, "theta2": 6.7, "radius": 39, "radius2": 30, "color": "#f2cf72", "opacity": 0.6},
          "encoding": {
            "x": {"field": "w", "type": "quantitative", "axis": null, "scale": {"domain": [200, 1000, 1500, 2500], "range": [88, 605, 669, 733], "nice": false, "zero": false}},
            "y": {"field": "v", "type": "quantitative", "axis": null, "scale": {"domain": [0, 100], "range": [728, 439], "nice": false, "zero": false}}
          }
        },
        {
          "data": {"name": "logo"},
          "mark": {"type": "arc", "theta": 3.9, "theta2": 7.1, "radius": 29, "radius2": 15, "color": "#8fc2e4", "opacity": 0.6},
          "encoding": {
            "x": {"field": "w", "type": "quantitative", "axis": null, "scale": {"domain": [200, 1000, 1500, 2500], "range": [88, 605, 669, 733], "nice": false, "zero": false}},
            "y": {"field": "v", "type": "quantitative", "axis": null, "scale": {"domain": [0, 100], "range": [728, 439], "nice": false, "zero": false}}
          }
        },
        {
          "data": {"name": "xticks"},
          "mark": {"type": "text", "font": "Liberation Sans", "fontSize": 12, "fontWeight": "bold", "color": "#111111", "dx": -1},
          "encoding": {
            "x": {"field": "w", "type": "quantitative", "axis": null, "scale": {"domain": [200, 1000, 1500, 2500], "range": [88, 605, 669, 733], "nice": false, "zero": false}},
            "y": {"datum": -3.5, "type": "quantitative", "axis": null, "scale": {"domain": [0, 100], "range": [728, 439], "nice": false, "zero": false}},
            "text": {"field": "w", "type": "quantitative", "format": "d"}
          }
        },
        {
          "data": {"name": "yticks"},
          "mark": {"type": "text", "font": "Liberation Sans", "fontSize": 12, "fontWeight": "bold", "color": "#111111", "align": "left"},
          "encoding": {
            "x": {"datum": 161.5, "type": "quantitative", "axis": null, "scale": {"domain": [200, 1000, 1500, 2500], "range": [88, 605, 669, 733], "nice": false, "zero": false}},
            "y": {"field": "v", "type": "quantitative", "axis": null, "scale": {"domain": [0, 100], "range": [728, 439], "nice": false, "zero": false}},
            "text": {"field": "v", "type": "quantitative", "format": "d"}
          }
        },
        {
          "data": {"name": "xtitle"},
          "mark": {"type": "text", "font": "Liberation Sans", "fontSize": 10.5, "color": "#222222"},
          "encoding": {
            "x": {"field": "w", "type": "quantitative", "axis": null, "scale": {"domain": [200, 1000, 1500, 2500], "range": [88, 605, 669, 733], "nice": false, "zero": false}},
            "y": {"field": "v", "type": "quantitative", "axis": null, "scale": {"domain": [0, 100], "range": [728, 439], "nice": false, "zero": false}},
            "text": {"field": "s"}
          }
        },
        {
          "data": {"name": "ytitle"},
          "mark": {"type": "text", "font": "Liberation Sans", "fontSize": 10.5, "color": "#222222", "angle": 270},
          "encoding": {
            "x": {"field": "w", "type": "quantitative", "axis": null, "scale": {"domain": [200, 1000, 1500, 2500], "range": [88, 605, 669, 733], "nice": false, "zero": false}},
            "y": {"field": "v", "type": "quantitative", "axis": null, "scale": {"domain": [0, 100], "range": [728, 439], "nice": false, "zero": false}},
            "text": {"field": "s"}
          }
        },
        {
          "data": {"name": "clabels"},
          "mark": {"type": "text", "font": "Liberation Sans Narrow, Liberation Sans", "fontSize": 10.5, "color": "#111111"},
          "encoding": {
            "x": {"field": "w", "type": "quantitative", "axis": null, "scale": {"domain": [200, 1000, 1500, 2500], "range": [88, 605, 669, 733], "nice": false, "zero": false}},
            "y": {"field": "v", "type": "quantitative", "axis": null, "scale": {"domain": [0, 100], "range": [728, 439], "nice": false, "zero": false}},
            "text": {"field": "g"},
            "angle": {"condition": [
              {"test": "datum.g === 'HB1'", "value": 335},
              {"test": "datum.g === 'HB3'", "value": 282},
              {"test": "datum.g === 'HB5'", "value": 292}
            ], "value": 322}
          }
        },
        {
          "data": {"name": "pg74"},
          "mark": {"type": "text", "font": "Liberation Serif", "fontSize": 15, "fontWeight": "bold", "color": "#111111"},
          "encoding": {
            "x": {"field": "w", "type": "quantitative", "axis": null, "scale": {"domain": [200, 1000, 1500, 2500], "range": [88, 605, 669, 733], "nice": false, "zero": false}},
            "y": {"field": "v", "type": "quantitative", "axis": null, "scale": {"domain": [0, 100], "range": [728, 439], "nice": false, "zero": false}},
            "text": {"field": "s"}
          }
        },
        {
          "data": {"name": "wm1"},
          "mark": {"type": "text", "font": "Noto Sans CJK SC", "fontSize": 42, "fontWeight": "bold", "color": "#a8a8a8", "opacity": 0.75},
          "encoding": {
            "x": {"field": "w", "type": "quantitative", "axis": null, "scale": {"domain": [200, 1000, 1500, 2500], "range": [88, 605, 669, 733], "nice": false, "zero": false}},
            "y": {"field": "v", "type": "quantitative", "axis": null, "scale": {"domain": [0, 100], "range": [728, 439], "nice": false, "zero": false}},
            "text": {"field": "s"}
          }
        },
        {
          "data": {"name": "wm2"},
          "mark": {"type": "text", "font": "Liberation Sans", "fontSize": 21, "fontWeight": "bold", "color": "#a8a8a8", "opacity": 0.8},
          "encoding": {
            "x": {"field": "w", "type": "quantitative", "axis": null, "scale": {"domain": [200, 1000, 1500, 2500], "range": [88, 605, 669, 733], "nice": false, "zero": false}},
            "y": {"field": "v", "type": "quantitative", "axis": null, "scale": {"domain": [0, 100], "range": [728, 439], "nice": false, "zero": false}},
            "text": {"field": "s"}
          }
        },
        {
          "data": {"name": "wm3"},
          "mark": {"type": "text", "font": "Liberation Sans", "fontSize": 10, "color": "#999999"},
          "encoding": {
            "x": {"field": "w", "type": "quantitative", "axis": null, "scale": {"domain": [200, 1000, 1500, 2500], "range": [88, 605, 669, 733], "nice": false, "zero": false}},
            "y": {"field": "v", "type": "quantitative", "axis": null, "scale": {"domain": [0, 100], "range": [728, 439], "nice": false, "zero": false}},
            "text": {"field": "s"}
          }
        }
      ]
    }
  ]
}
